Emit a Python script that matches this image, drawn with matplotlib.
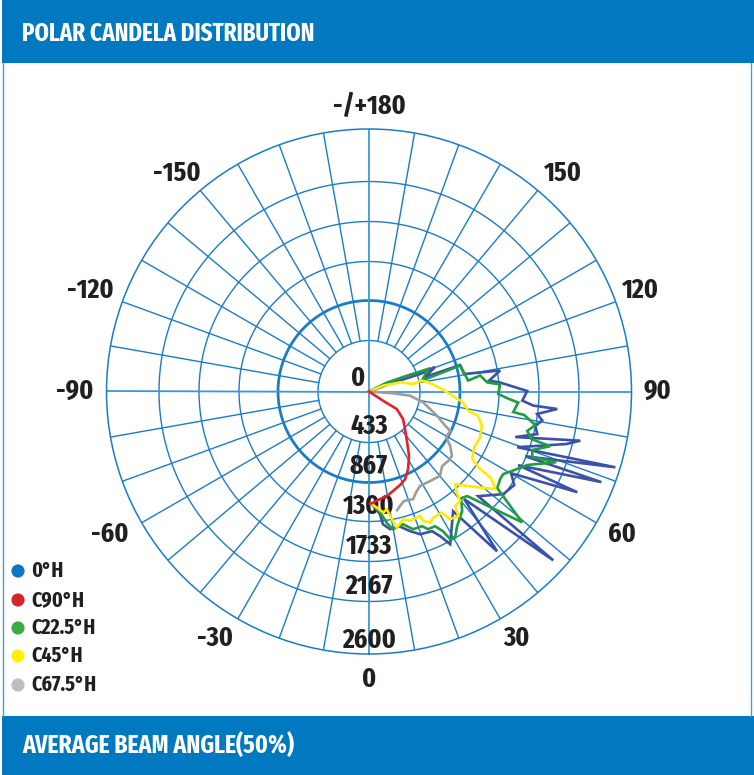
import os
import numpy as np
import matplotlib
matplotlib.use("Agg")
import matplotlib.pyplot as plt
from matplotlib.patches import Rectangle
from matplotlib import font_manager as fm

# ---------------- data ----------------
# angles in degrees (0 = nadir, positive towards the right), intensities in cd
blue_deg = [120, 110.3, 108.9, 110.4, 104.5, 106.2, 100.4, 99.1, 95.2, 93.9,
            90.2, 86.6, 85.1, 84.7, 82.4, 80.5, 78.3, 75.8, 72.7, 76.9,
            75.1, 69.4, 72.9, 67.5, 68.7, 63.7, 64.2, 60.1, 57.2, 52.6,
            46.2, 47.5, 41.5, 38.7, 35.1, 28.0, 26.2, 24.3, 19.7, 16.4,
            12.6, 8.7, 6.0, 5.1, 1.5]
blue_cd = [0, 243, 535, 698, 574, 940, 958, 1316, 1195, 1302,
           1567, 1521, 1633, 1873, 1681, 1740, 1682, 1719, 1517, 2149,
           2023, 1568, 2553, 1675, 2470, 1648, 2292, 1624, 1711, 1674,
           1498, 2475, 1423, 2029, 1449, 1713, 1597, 1518, 1502, 1442,
           1367, 1380, 1322, 1220, 1116]

green_deg = [120, 116.6, 113.1, 110.9, 101.7, 105.9, 96.3, 98.2, 94.4, 93.1,
             88.9, 86.9, 85.8, 81.9, 81.4, 78.6, 76.0, 73.7, 73.2, 70.3,
             68.1, 69.3, 65.1, 61.6, 58.4, 56.3, 53.0, 49.5, 43.2, 40.8,
             37.9, 33.2, 30.6, 28.8, 27.9, 26.1, 23.2, 21.5, 17.7, 14.4,
             9.9, 7.8, 5.2, 1.5]
green_cd = [0, 189, 367, 626, 537, 939, 988, 1112, 1174, 1301,
            1280, 1391, 1482, 1443, 1555, 1680, 1616, 1675, 1875, 1718,
            1743, 1982, 1729, 1636, 1561, 1562, 1590, 1995, 1421, 1396,
            1502, 1594, 1677, 1669, 1566, 1486, 1484, 1434, 1432, 1357,
            1385, 1317, 1200, 1116]

yellow_deg = [100, 112.5, 106.5, 99.7, 101.6, 97.9, 92.8, 88.2, 83.4, 79.0,
              77.5, 73.1, 67.6, 62.0, 56.8, 55.1, 54.7, 53.2, 52.3, 49.2,
              46.0, 42.9, 41.0, 39.8, 37.0, 35.7, 32.4, 31.0, 27.1, 25.0,
              22.8, 22.3, 17.6, 15.1, 11.5, 9.6, 8.6, 6.8, 3.8, 1.4]
yellow_cd = [0, 150, 321, 443, 534, 611, 705, 804, 938, 1000,
             1108, 1168, 1191, 1180, 1222, 1343, 1471, 1549, 1580, 1454,
             1346, 1253, 1325, 1410, 1418, 1518, 1498, 1399, 1402, 1432,
             1390, 1332, 1344, 1310, 1375, 1250, 1179, 1207, 1151, 1116]

gray_deg = [90, 85.7, 84.2, 78.7, 70.4, 65.8, 64.2, 59.3, 56.2, 52.2,
            48.9, 44.4, 40.1, 34.3, 28.4, 25.1, 22.3, 17.8, 15.2, 13.3]
gray_cd = [0, 239, 409, 546, 716, 827, 893, 889, 967, 1039,
           1044, 1035, 1092, 1074, 1063, 1101, 1152, 1138, 1174, 1208]

red_deg = [90, 56.7, 57.7, 51.0, 43.8, 37.0, 31.8, 26.7, 22.4, 18.3,
           14.2, 10.4, 5.8, 2.1, 0.5]
red_cd = [0, 166, 325, 434, 516, 627, 753, 861, 939, 977,
          1008, 1044, 1072, 1101, 1112]

series_names = ["0°H", "C90°H", "C22.5°H", "C45°H", "C67.5°H"]

radial_labels = ["433", "867", "1300", "1733", "2167", "2600"]
angle_labels = ["0", "30", "60", "90", "120", "150", "-/+180",
                "-150", "-120", "-90", "-60", "-30"]

R_MAX = 2600


# ---------------- font: prefer the most condensed bold face installed ----------------
def pick_font():
    best, best_score = None, None
    for f in fm.fontManager.ttflist:
        name = f.name
        base = os.path.basename(f.fname)
        key = (name + " " + base).replace(" ", "").lower()
        if "cjk" in key or "mono" in key or "serif" in key or "italic" in key:
            continue
        if str(f.style) != "normal":
            continue
        if "ultracondensed" in key or "extracondensed" in key:
            rank = 0
        elif "semicondensed" in key:
            rank = 2
        elif "condensed" in key or "narrow" in key or str(f.stretch) in (
                "condensed", "extra-condensed", "ultra-condensed"):
            rank = 1
        else:
            continue
        try:
            w = int(f.weight)
        except (TypeError, ValueError):
            w = {"bold": 700, "normal": 400, "regular": 400}.get(str(f.weight), 400)
        score = (rank, abs(w - 720))
        if best_score is None or score < best_score:
            best, best_score = f, score
    if best is None:
        return fm.FontProperties(family=["DejaVu Sans"], weight="bold")
    return fm.FontProperties(fname=best.fname)


FP = pick_font()

TXT = "#231f20"
GRID = "#1a7cc9"
BAND = "#0079c1"
line_cols = {"0°H": "#3b52a8", "C90°H": "#e3232a", "C22.5°H": "#1e9e3e",
             "C45°H": "#ffea00", "C67.5°H": "#9d9d9d"}
dot_cols = ["#0b75c9", "#d7242b", "#3cac4b", "#fff200", "#bcbdc0"]

W, H = 754, 775
fig = plt.figure(figsize=(W / 100, H / 100), dpi=100)
fig.patch.set_facecolor("white")
renderer = fig.canvas.get_renderer()


def fit_size(text, target_px, max_pt):
    """font size (pt) that gives the text the wanted pixel width"""
    t = fig.text(0, 0, text, fontproperties=FP, fontsize=10)
    w = t.get_window_extent(renderer=renderer).width
    t.remove()
    return min(max_pt, 10 * target_px / max(w, 1))


size_num = fit_size("2600", 54, 22)
size_leg = fit_size("C22.5°H", 64, 15.5)
size_title = fit_size("POLAR CANDELA DISTRIBUTION", 292, 26)
size_foot = fit_size("AVERAGE BEAM ANGLE(50%)", 272, 26)

# decoration layer in pixel coordinates
deco = fig.add_axes([0, 0, 1, 1], zorder=0)
deco.set_xlim(0, W)
deco.set_ylim(H, 0)
deco.axis("off")
deco.add_patch(Rectangle((2, 0), W - 2, 63, color=BAND, lw=0))
deco.add_patch(Rectangle((2, 716), W - 2, H - 716, color=BAND, lw=0))
deco.plot([3, 3], [63, 716], color="#4a9bd8", lw=1.0)
deco.plot([751, 751], [63, 716], color="#4a9bd8", lw=1.0)
deco.text(22, 34, "POLAR CANDELA DISTRIBUTION", color="white",
          fontproperties=FP, fontsize=size_title, ha="left", va="center")
deco.text(22, 745, "AVERAGE BEAM ANGLE(50%)", color="white",
          fontproperties=FP, fontsize=size_foot, ha="left", va="center")

legend_y = [571, 600, 628, 656, 685]
for name, col, y in zip(series_names, dot_cols, legend_y):
    deco.scatter([18], [y], s=90, color=col, edgecolors="none")
    deco.text(31, y, name, color=TXT, fontproperties=FP, fontsize=size_leg,
              ha="left", va="center")

# polar chart
cx, cy, rp = 369, 391.5, 262.5
ax = fig.add_axes([(cx - rp) / W, (H - cy - rp) / H, 2 * rp / W, 2 * rp / H],
                  projection="polar", zorder=1)
ax.set_facecolor("none")
ax.set_theta_zero_location("S")
ax.set_theta_direction(1)
ax.set_ylim(0, R_MAX)
ax.grid(False)
ax.set_xticks([])
ax.set_yticks([])
ax.spines["polar"].set_color(GRID)
ax.spines["polar"].set_linewidth(1.1)

px = R_MAX / rp  # cd per pixel
ring_r = [51 * px, 91 * px, 130 * px, 170 * px, 210 * px]
full = np.linspace(0, 2 * np.pi, 721)
for i, r in enumerate(ring_r):
    ax.plot(full, np.full_like(full, r), color=GRID,
            lw=2.0 if i == 1 else 1.0, zorder=1)
for a in range(0, 360, 10):
    t = np.deg2rad(a)
    r0 = 0 if a % 90 == 0 else ring_r[0]
    ax.plot([t, t], [r0, R_MAX], color=GRID if a % 90 else "#3a98d8",
            lw=1.0 if a % 90 else 1.3, zorder=1)

# radial labels (centered in their bands along the 0° axis)
label_r_px = [34.5, 74.5, 114.5, 154.5, 194.5, 248.5]
for txt, rr in zip(radial_labels, label_r_px):
    ax.text(0, rr * px, txt, ha="center", va="center", fontsize=size_num,
            fontproperties=FP, color=TXT, zorder=2)
ax.annotate("0", xy=(0, 0), xytext=(-11, 13), textcoords="offset pixels",
            ha="center", va="center", fontsize=size_num,
            fontproperties=FP, color=TXT, zorder=2)

# angle labels
angle_pos_deg = [0, 30.9, 60.6, 90, 110.5, 138.4, 180,
                 -138.7, -110, -90, -61.2, -31.9]
angle_pos_px = [288, 288, 290, 288, 290, 292, 285, 291, 297, 294, 296, 291]
for txt, a, rr in zip(angle_labels, angle_pos_deg, angle_pos_px):
    ax.text(np.deg2rad(a), rr * px, txt, ha="center", va="center",
            fontsize=size_num, fontproperties=FP, color=TXT,
            clip_on=False, zorder=2)

# curves
curves = [("0°H", blue_deg, blue_cd), ("C22.5°H", green_deg, green_cd),
          ("C45°H", yellow_deg, yellow_cd), ("C67.5°H", gray_deg, gray_cd),
          ("C90°H", red_deg, red_cd)]
for k, (name, d, v) in enumerate(curves):
    ax.plot(np.deg2rad(d), v, color=line_cols[name], lw=1.9, zorder=3 + k,
            solid_joinstyle="miter")

fig.savefig("out.png", dpi=100, facecolor="white")
